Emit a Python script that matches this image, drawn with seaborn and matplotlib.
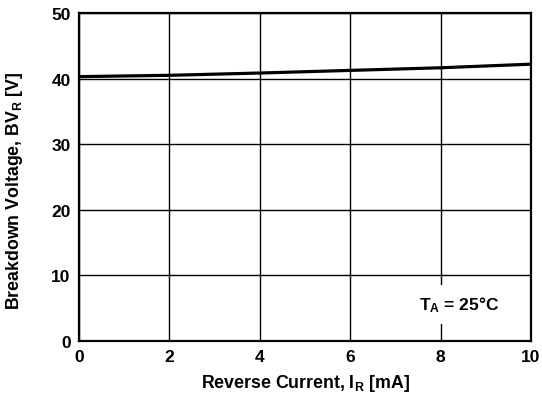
import matplotlib
matplotlib.use("Agg")
import matplotlib.pyplot as plt
import seaborn as sns
import pandas as pd

current_mA = [0, 2, 4, 6, 8, 10]
breakdown_V = [40.3, 40.5, 40.85, 41.25, 41.65, 42.2]
x_ticks = [0, 2, 4, 6, 8, 10]
y_ticks = [0, 10, 20, 30, 40, 50]

sns.set_theme(style="white")
plt.rcParams['font.family'] = ['Liberation Sans', 'DejaVu Sans']
plt.rcParams['font.weight'] = 'bold'
plt.rcParams['mathtext.fontset'] = 'custom'
plt.rcParams['mathtext.rm'] = 'Liberation Sans:bold'
plt.rcParams['mathtext.it'] = 'Liberation Sans:bold'
plt.rcParams['mathtext.bf'] = 'Liberation Sans:bold'
plt.rcParams['mathtext.default'] = 'rm'

df = pd.DataFrame({"I": current_mA, "BV": breakdown_V})

fig = plt.figure(figsize=(5.42, 4.02), dpi=100)
ax = fig.add_axes([79/542, 1-342/402, (531-79)/542, (342-14)/402])
sns.lineplot(data=df, x="I", y="BV", ax=ax, color="black", linewidth=2.3)

ax.set_xlim(0, 10)
ax.set_ylim(0, 50)
ax.set_xticks(x_ticks)
ax.set_yticks(y_ticks)
ax.grid(True, color="black", linewidth=1.0)
for s in ax.spines.values():
    s.set_color("black")
    s.set_linewidth(1.6)
ax.tick_params(axis="both", direction="in", length=7, width=1.6, color="black",
               labelsize=12.5, labelcolor="black", pad=6)
for lab in ax.get_xticklabels() + ax.get_yticklabels():
    lab.set_fontweight("bold")

ax.set_xlabel("Reverse Current, I$_R$ [mA]", fontsize=12.8, fontweight="bold", color="black")
ax.set_ylabel("Breakdown Voltage, BV$_R$ [V]", fontsize=12.8, fontweight="bold", color="black")
ax.xaxis.label.set_va("center")
ax.yaxis.label.set_va("center")
ax.xaxis.set_label_coords(0.5, -0.128)
ax.yaxis.set_label_coords(-0.1416, 0.46)

ax.text(8.41, 5.6, "T$_A$ = 25°C", fontsize=12.5, fontweight="bold", ha="center", va="center",
        color="black", bbox=dict(facecolor="white", edgecolor="none", pad=7))

fig.savefig("out.png", dpi=100)
